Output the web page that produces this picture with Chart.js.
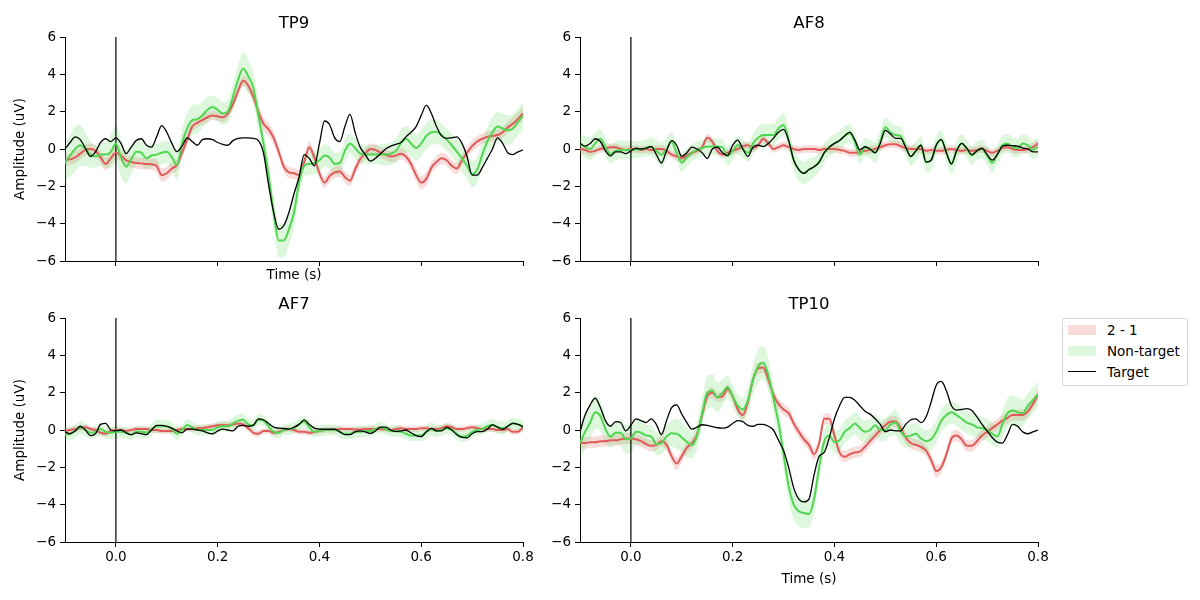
<!DOCTYPE html>
<html>
<head>
<meta charset="utf-8">
<script src="https://cdn.jsdelivr.net/npm/chart.js@4.4.0/dist/chart.umd.min.js"></script>
<style>
  body { margin: 0; width: 1200px; height: 600px; background: #fff; position: relative; overflow: hidden; font-family: 'DejaVu Sans', sans-serif; }
  canvas { position: absolute; }
  .title { position: absolute; width: 458px; text-align: center; font-size: 16.5px; line-height: 20px; color: #000; }
  #legend { position: absolute; left: 1062px; top: 318px; width: 124px; height: 66px; border: 1px solid #d6d6d6; border-radius: 3px; background: #fff; }
  #legend .row { position: absolute; left: 0; height: 16px; width: 124px; font-size: 13.5px; line-height: 16px; color: #000; }
  #legend .patch { position: absolute; left: 5px; top: 3px; width: 28px; height: 10px; }
  #legend .line { position: absolute; left: 5px; top: 7px; width: 28px; height: 0; border-top: 1.4px solid #000; }
  #legend .txt { position: absolute; left: 44px; top: 0; white-space: nowrap; }
</style>
</head>
<body>
<canvas id="c0" width="545" height="281" style="left:0;top:0"></canvas>
<canvas id="c1" width="530" height="281" style="left:530px;top:0"></canvas>
<canvas id="c2" width="545" height="319" style="left:0;top:281px"></canvas>
<canvas id="c3" width="530" height="319" style="left:530px;top:281px"></canvas>
<div class="title" id="t0" style="left:65px;top:13px"></div>
<div class="title" id="t1" style="left:580px;top:13px"></div>
<div class="title" id="t2" style="left:65px;top:294px"></div>
<div class="title" id="t3" style="left:580px;top:294px"></div>
<div id="legend">
  <div class="row" style="top:3px"><span class="patch" style="background:rgba(224,90,90,0.22)"></span><span class="txt">2 - 1</span></div>
  <div class="row" style="top:24px"><span class="patch" style="background:rgba(80,214,80,0.2)"></span><span class="txt">Non-target</span></div>
  <div class="row" style="top:45px"><span class="line"></span><span class="txt">Target</span></div>
</div>
<script>
// sample times (s)
const times = [
  -0.10,-0.09,-0.08,-0.07,-0.06,-0.05,-0.04,-0.03,-0.02,-0.01,
  0.00,0.01,0.02,0.03,0.04,0.05,0.06,0.07,0.08,0.09,
  0.10,0.11,0.12,0.13,0.14,0.15,0.16,0.17,0.18,0.19,
  0.20,0.21,0.22,0.23,0.24,0.25,0.26,0.27,0.28,0.29,
  0.30,0.31,0.32,0.33,0.34,0.35,0.36,0.37,0.38,0.39,
  0.40,0.41,0.42,0.43,0.44,0.45,0.46,0.47,0.48,0.49,
  0.50,0.51,0.52,0.53,0.54,0.55,0.56,0.57,0.58,0.59,
  0.60,0.61,0.62,0.63,0.64,0.65,0.66,0.67,0.68,0.69,
  0.70,0.71,0.72,0.73,0.74,0.75,0.76,0.77,0.78,0.79,
  0.80];
const xTicks = [0.0, 0.2, 0.4, 0.6, 0.8];
const yTicks = [-6, -4, -2, 0, 2, 4, 6];
const channels = ['TP9', 'AF8', 'AF7', 'TP10'];

// TP9
const tp9Diff = [
  -0.6,-0.55,-0.45,-0.25,-0.05,0.0,-0.1,-0.45,-0.8,-0.5,
  -0.2,-0.35,-0.6,-0.7,-0.75,-0.77,-0.8,-0.82,-0.9,-1.4,
  -1.3,-1.05,-0.85,-0.2,0.5,1.2,1.4,1.55,1.7,1.8,
  1.75,1.7,1.9,2.4,3.1,3.65,3.4,2.8,2.0,1.35,
  1.05,0.6,-0.15,-0.95,-1.25,-1.3,-1.4,-0.7,0.1,-0.45,
  -1.3,-1.8,-1.45,-1.25,-1.2,-1.5,-1.7,-1.1,-0.55,-0.25,
  0.0,-0.05,-0.2,-0.3,-0.4,-0.35,-0.25,-0.4,-0.8,-1.4,
  -1.8,-1.6,-1.0,-0.7,-0.5,-0.6,-0.9,-1.05,-0.6,-0.2,
  0.15,0.4,0.55,0.65,0.7,0.75,0.9,1.15,1.35,1.6,
  1.9];
const tp9DiffSem = [
  0.3,0.3,0.3,0.3,0.3,0.3,0.3,0.3,0.35,0.35,
  0.35,0.3,0.3,0.3,0.3,0.3,0.3,0.3,0.35,0.35,
  0.35,0.3,0.3,0.3,0.3,0.3,0.25,0.25,0.25,0.25,
  0.25,0.25,0.25,0.25,0.3,0.3,0.3,0.3,0.35,0.35,
  0.35,0.35,0.3,0.3,0.3,0.3,0.3,0.3,0.3,0.3,
  0.3,0.3,0.3,0.3,0.3,0.3,0.3,0.3,0.3,0.3,
  0.3,0.3,0.3,0.3,0.3,0.3,0.3,0.3,0.3,0.35,
  0.35,0.35,0.3,0.3,0.3,0.3,0.3,0.3,0.3,0.3,
  0.3,0.3,0.3,0.3,0.3,0.3,0.3,0.3,0.35,0.35,
  0.35];
const tp9NonTarget = [
  -0.75,-0.35,0.0,0.2,0.0,-0.3,-0.4,-0.3,-0.3,-0.15,
  0.3,-0.45,-0.95,-0.55,-0.15,-0.2,-0.5,-0.35,-0.3,-0.2,
  -0.15,-0.45,-0.85,0.3,1.1,1.55,1.6,1.8,2.1,2.25,
  2.1,1.9,2.0,2.8,3.7,4.3,3.9,3.3,1.8,0.3,
  -1.4,-3.4,-4.9,-4.9,-4.3,-3.4,-1.8,-0.9,-0.8,-0.75,
  -0.6,-0.35,-0.45,-0.8,-0.75,-0.1,0.3,0.05,-0.25,-0.3,
  -0.3,-0.3,-0.3,-0.3,-0.25,-0.1,0.3,0.55,0.3,0.05,
  0.3,0.7,0.9,0.93,0.75,0.5,0.2,-0.15,-0.5,-0.9,
  -1.35,-1.1,-0.3,0.4,0.9,1.2,1.1,1.0,1.1,1.45,
  1.8];
const tp9NonTargetSem = [
  1.1,1.1,1.2,1.1,0.9,0.7,0.6,0.6,0.7,0.9,
  1.0,1.0,0.9,0.8,0.7,0.6,0.6,0.6,0.6,0.6,
  0.6,0.7,0.8,0.8,0.8,0.8,0.8,0.7,0.7,0.6,
  0.6,0.6,0.6,0.7,0.8,0.9,0.9,0.8,0.8,0.8,
  0.8,0.9,0.9,0.9,0.8,0.8,0.7,0.6,0.6,0.6,
  0.6,0.6,0.6,0.6,0.6,0.6,0.55,0.55,0.5,0.5,
  0.5,0.5,0.55,0.6,0.6,0.65,0.7,0.7,0.7,0.7,
  0.7,0.7,0.7,0.65,0.6,0.6,0.6,0.65,0.7,0.7,
  0.7,0.7,0.7,0.75,0.8,0.8,0.8,0.8,0.75,0.7,
  0.7];
const tp9Target = [
  0.0,0.35,0.65,0.5,0.05,-0.4,-0.15,0.35,0.55,0.4,
  0.6,0.3,-0.25,0.1,0.45,0.55,0.2,0.1,0.65,1.25,
  0.9,0.3,-0.14,0.15,0.6,0.4,0.2,0.5,0.55,0.5,
  0.35,0.25,0.2,0.45,0.57,0.6,0.6,0.57,0.45,-0.2,
  -1.9,-3.4,-4.3,-4.1,-3.4,-2.4,-1.5,-0.3,-0.5,-0.9,
  0.3,1.5,1.3,0.6,0.4,1.2,1.85,0.9,0.1,-0.3,
  -0.65,-0.5,-0.25,0.0,0.15,0.25,0.35,0.65,0.9,1.2,
  1.8,2.35,1.9,1.2,0.7,0.57,0.6,0.65,0.3,-0.4,
  -1.4,-1.4,-1.0,-0.5,0.0,0.6,0.3,-0.2,-0.3,-0.15,
  -0.05];

// AF8
const af8Diff = [
  0.0,-0.05,-0.15,-0.1,0.0,0.05,0.1,0.1,0.0,-0.05,
  0.0,0.0,-0.05,0.0,-0.05,0.0,0.0,-0.1,-0.3,-0.4,
  -0.5,-0.35,-0.2,-0.1,0.1,0.6,0.4,-0.1,-0.3,-0.2,
  -0.1,0.0,0.15,0.2,0.05,0.2,0.55,0.3,0.0,0.1,
  0.2,0.1,0.0,-0.05,0.0,0.0,0.0,-0.05,0.0,0.0,
  0.0,-0.05,-0.1,-0.2,-0.2,-0.15,-0.1,-0.05,0.0,0.1,
  0.2,0.25,0.25,0.15,0.05,0.0,0.0,0.0,-0.1,-0.05,
  -0.1,-0.1,-0.05,0.0,-0.05,-0.1,-0.05,-0.1,-0.05,0.0,
  -0.1,-0.2,-0.1,0.05,0.1,0.0,-0.05,-0.05,0.0,0.1,
  0.3];
const af8DiffSem = [
  0.22,0.22,0.22,0.2,0.2,0.2,0.2,0.2,0.2,0.2,
  0.2,0.2,0.2,0.2,0.2,0.2,0.2,0.2,0.2,0.22,
  0.22,0.22,0.2,0.2,0.2,0.22,0.22,0.2,0.2,0.2,
  0.2,0.2,0.2,0.2,0.2,0.2,0.22,0.22,0.2,0.2,
  0.2,0.2,0.2,0.2,0.2,0.2,0.2,0.2,0.2,0.2,
  0.2,0.2,0.2,0.2,0.2,0.2,0.2,0.2,0.2,0.2,
  0.2,0.2,0.2,0.2,0.2,0.2,0.2,0.2,0.2,0.2,
  0.2,0.2,0.2,0.2,0.2,0.2,0.2,0.2,0.2,0.2,
  0.2,0.2,0.2,0.2,0.2,0.2,0.2,0.2,0.22,0.22,
  0.22];
const af8NonTarget = [
  0.3,0.1,0.0,0.3,0.55,0.1,-0.27,-0.1,-0.05,-0.05,
  -0.05,-0.03,-0.02,0.05,0.13,-0.1,-0.32,0.0,0.39,-0.2,
  -0.73,-0.45,-0.2,-0.05,0.05,0.13,0.13,0.13,0.09,-0.38,
  -0.1,0.21,0.0,-0.2,0.3,0.6,0.75,0.75,0.75,1.1,
  1.29,0.5,-0.6,-1.1,-1.3,-1.1,-0.95,-0.7,-0.2,0.1,
  0.3,0.45,0.7,0.85,0.4,-0.3,0.1,0.0,-0.2,0.4,
  1.16,0.9,0.75,0.7,0.1,-0.4,-0.1,0.2,-0.7,-0.6,
  0.2,0.5,-0.2,-0.8,-0.1,0.3,0.0,-0.35,-0.1,0.0,
  -0.35,-0.75,-0.3,0.2,0.3,0.1,0.04,0.3,0.2,-0.05,
  0.12];
const af8NonTargetSem = [
  0.5,0.6,0.6,0.6,0.5,0.5,0.5,0.5,0.5,0.5,
  0.5,0.45,0.45,0.45,0.5,0.55,0.65,0.6,0.5,0.5,
  0.5,0.5,0.45,0.45,0.45,0.45,0.45,0.45,0.45,0.5,
  0.5,0.5,0.5,0.5,0.55,0.6,0.6,0.6,0.6,0.6,
  0.6,0.6,0.6,0.6,0.6,0.6,0.55,0.5,0.5,0.5,
  0.5,0.5,0.5,0.5,0.5,0.5,0.5,0.5,0.55,0.55,
  0.55,0.5,0.5,0.5,0.5,0.5,0.5,0.5,0.55,0.55,
  0.5,0.5,0.5,0.55,0.55,0.5,0.5,0.5,0.5,0.5,
  0.5,0.55,0.5,0.5,0.5,0.5,0.5,0.5,0.5,0.5,
  0.5];
const af8Target = [
  0.3,0.15,0.3,0.55,0.4,-0.1,-0.38,-0.15,-0.15,-0.25,
  -0.1,0.04,0.0,0.05,0.13,-0.3,-0.75,-0.1,0.45,0.2,
  -0.4,-0.2,0.1,0.0,-0.2,-0.5,0.0,0.1,-0.2,-0.35,
  0.2,0.48,0.0,-0.4,0.1,0.21,0.13,0.3,0.57,0.9,
  1.05,0.45,-0.6,-1.1,-1.3,-1.1,-0.95,-0.7,-0.2,0.1,
  0.3,0.45,0.7,0.9,0.5,-0.05,0.12,0.0,-0.2,0.3,
  1.0,0.8,0.57,0.57,0.1,-0.4,-0.1,0.2,-0.7,-0.6,
  0.2,0.5,-0.2,-0.8,-0.1,0.3,0.05,-0.3,-0.1,0.04,
  -0.3,-0.59,-0.3,0.15,0.2,0.18,0.15,0.05,0.0,-0.15,
  -0.15];

// AF7
const af7Diff = [
  -0.05,0.0,0.05,0.1,0.15,0.05,0.0,-0.15,-0.2,-0.05,
  0.0,0.0,-0.05,0.0,0.05,0.05,0.05,0.0,0.0,-0.05,
  -0.05,-0.05,0.0,0.05,0.05,0.05,0.1,0.1,0.15,0.2,
  0.25,0.27,0.25,0.3,0.35,0.3,0.1,-0.15,-0.2,-0.05,
  -0.05,-0.15,-0.1,0.0,0.05,0.0,-0.1,-0.1,-0.15,-0.1,
  -0.05,0.0,0.0,0.02,0.05,0.05,0.05,0.03,0.03,0.05,
  0.05,0.05,0.05,0.03,0.0,0.05,0.1,0.05,0.05,0.05,
  0.1,0.1,0.05,0.05,0.1,0.2,0.15,0.05,0.05,0.1,
  0.15,0.1,0.05,0.05,0.05,0.0,0.0,0.05,-0.1,-0.1,
  0.15];
const af7DiffSem = [
  0.15,0.15,0.15,0.15,0.15,0.15,0.15,0.15,0.15,0.15,
  0.15,0.15,0.15,0.15,0.15,0.15,0.15,0.15,0.15,0.15,
  0.15,0.15,0.15,0.15,0.15,0.15,0.15,0.15,0.15,0.15,
  0.15,0.15,0.15,0.15,0.15,0.15,0.15,0.18,0.18,0.15,
  0.15,0.15,0.15,0.15,0.15,0.15,0.15,0.15,0.15,0.15,
  0.15,0.15,0.15,0.15,0.15,0.15,0.15,0.15,0.15,0.15,
  0.15,0.15,0.15,0.15,0.15,0.15,0.15,0.15,0.15,0.15,
  0.15,0.15,0.15,0.15,0.15,0.15,0.15,0.15,0.15,0.15,
  0.15,0.15,0.15,0.15,0.15,0.15,0.15,0.15,0.15,0.15,
  0.15];
const af7NonTarget = [
  -0.25,-0.2,-0.05,0.15,0.0,-0.15,-0.1,0.05,-0.1,-0.15,
  -0.1,-0.1,-0.15,-0.25,-0.1,-0.1,-0.15,0.05,0.2,0.2,
  0.2,0.05,-0.2,0.0,0.27,0.15,0.0,0.0,0.0,0.0,
  0.15,0.2,0.2,0.35,0.5,0.55,0.3,0.25,0.55,0.5,
  0.2,-0.1,-0.15,0.0,0.05,0.1,0.3,0.45,0.15,-0.1,
  -0.05,0.0,0.0,0.0,-0.1,-0.2,-0.2,-0.1,-0.1,-0.05,
  -0.05,0.05,0.14,0.05,-0.05,-0.05,-0.1,-0.2,-0.3,-0.3,
  -0.3,-0.1,0.05,-0.05,0.0,0.09,0.0,-0.2,-0.35,-0.3,
  -0.1,0.0,0.05,0.2,0.27,0.15,0.09,0.2,0.36,0.3,
  0.18];
const af7NonTargetSem = [
  0.35,0.35,0.35,0.35,0.35,0.3,0.3,0.35,0.35,0.35,
  0.35,0.3,0.3,0.3,0.3,0.3,0.3,0.3,0.35,0.35,
  0.35,0.35,0.35,0.3,0.3,0.3,0.3,0.3,0.3,0.3,
  0.3,0.3,0.3,0.35,0.35,0.35,0.3,0.3,0.3,0.3,
  0.3,0.3,0.3,0.3,0.3,0.3,0.35,0.35,0.35,0.3,
  0.3,0.3,0.3,0.3,0.3,0.3,0.3,0.3,0.3,0.3,
  0.3,0.3,0.3,0.3,0.3,0.3,0.3,0.3,0.3,0.3,
  0.3,0.35,0.35,0.35,0.3,0.3,0.3,0.3,0.3,0.3,
  0.3,0.3,0.3,0.3,0.35,0.35,0.35,0.3,0.3,0.3,
  0.3];
const af7Target = [
  -0.1,-0.2,-0.05,0.2,0.0,-0.3,-0.2,0.3,0.35,0.0,
  -0.05,0.0,-0.15,-0.25,-0.15,-0.2,-0.25,0.0,0.25,0.25,
  0.2,0.1,-0.05,-0.15,0.05,0.05,0.0,-0.05,-0.15,-0.2,
  -0.05,0.05,0.0,-0.05,0.2,0.25,0.2,0.25,0.6,0.55,
  0.35,0.15,0.1,0.08,0.05,0.15,0.3,0.54,0.3,0.1,
  0.05,0.04,0.04,0.04,-0.1,-0.25,-0.25,-0.1,-0.05,-0.1,
  -0.18,-0.05,0.15,0.15,0.0,-0.09,-0.05,0.0,-0.15,-0.3,
  -0.36,-0.1,0.09,-0.05,-0.05,0.14,0.0,-0.25,-0.4,-0.42,
  -0.2,-0.09,-0.09,0.05,0.27,0.15,0.04,0.2,0.36,0.3,
  0.18];

// TP10
const tp10Diff = [
  -0.7,-0.7,-0.65,-0.65,-0.6,-0.6,-0.55,-0.55,-0.5,-0.45,
  -0.45,-0.5,-0.6,-0.75,-0.85,-0.8,-0.6,-0.8,-1.4,-1.8,
  -1.4,-0.95,-0.7,-0.25,0.8,1.8,2.0,1.75,1.8,2.2,
  1.8,1.1,0.8,1.5,2.7,3.3,3.35,2.7,1.9,1.4,
  1.1,0.9,0.35,-0.1,-0.5,-0.8,-1.3,-0.7,0.6,0.6,
  -0.3,-1.2,-1.43,-1.3,-1.2,-1.16,-0.9,-0.6,-0.3,0.0,
  0.25,0.45,0.45,0.1,-0.4,-0.7,-0.8,-0.9,-1.1,-1.6,
  -2.2,-2.0,-1.3,-0.45,-0.3,-0.5,-0.85,-0.85,-0.6,-0.3,
  -0.1,0.1,0.3,0.5,0.65,0.8,0.8,0.8,1.0,1.4,
  1.9];
const tp10DiffSem = [
  0.3,0.3,0.3,0.3,0.3,0.3,0.3,0.3,0.3,0.3,
  0.3,0.3,0.3,0.3,0.3,0.3,0.3,0.3,0.3,0.35,
  0.3,0.3,0.3,0.3,0.3,0.3,0.3,0.25,0.25,0.25,
  0.25,0.25,0.25,0.25,0.3,0.3,0.3,0.3,0.3,0.3,
  0.3,0.3,0.3,0.3,0.3,0.3,0.3,0.3,0.3,0.3,
  0.3,0.3,0.3,0.3,0.3,0.3,0.3,0.3,0.3,0.3,
  0.3,0.3,0.3,0.3,0.3,0.3,0.3,0.3,0.3,0.3,
  0.35,0.3,0.3,0.3,0.3,0.3,0.3,0.3,0.3,0.3,
  0.3,0.3,0.3,0.3,0.3,0.3,0.3,0.3,0.3,0.3,
  0.3];
const tp10NonTarget = [
  -0.7,-0.1,0.4,0.95,0.75,0.05,-0.36,-0.15,-0.15,-0.5,
  -0.45,-0.1,-0.15,-0.3,-0.35,-0.75,-0.7,-0.35,-0.18,-0.2,
  -0.4,-0.65,-0.8,-0.3,0.9,2.0,2.1,1.75,2.0,2.3,
  1.8,1.3,1.1,1.6,2.7,3.4,3.6,2.95,1.7,0.4,
  -1.3,-3.0,-4.0,-4.35,-4.45,-4.5,-3.7,-2.0,-0.6,-0.3,
  -0.65,-0.55,-0.1,0.1,0.35,0.1,-0.1,0.0,0.25,0.0,
  0.0,0.3,0.4,-0.05,-0.35,-0.3,-0.2,-0.45,-0.6,-0.5,
  -0.1,0.5,0.8,0.95,0.8,0.6,0.4,0.3,0.15,0.1,
  0.0,-0.2,-0.35,0.3,0.9,1.05,0.95,0.9,1.3,1.6,
  1.9];
const tp10NonTargetSem = [
  0.9,0.9,0.9,0.9,0.8,0.7,0.6,0.6,0.7,0.8,
  0.8,0.7,0.6,0.6,0.6,0.6,0.6,0.6,0.7,0.8,
  0.8,0.8,0.7,0.7,0.8,0.9,0.9,0.8,0.7,0.6,
  0.6,0.6,0.6,0.7,0.8,0.9,0.9,0.9,0.8,0.8,
  0.8,0.8,0.8,0.8,0.8,0.7,0.7,0.6,0.6,0.6,
  0.6,0.6,0.6,0.6,0.6,0.6,0.6,0.6,0.6,0.6,
  0.6,0.6,0.7,0.7,0.6,0.6,0.6,0.6,0.6,0.6,
  0.6,0.6,0.6,0.6,0.6,0.6,0.6,0.6,0.6,0.6,
  0.6,0.6,0.6,0.7,0.8,0.8,0.8,0.7,0.7,0.7,
  0.7];
const tp10Target = [
  -0.1,0.8,1.35,1.7,1.2,0.5,0.2,0.45,0.4,-0.05,
  0.25,0.6,0.5,0.4,0.6,0.3,-0.25,0.5,1.2,1.35,
  0.85,0.4,0.05,0.15,0.28,0.25,0.18,0.12,0.1,0.15,
  0.35,0.5,0.45,0.25,0.2,0.3,0.3,0.2,0.0,-0.55,
  -1.1,-2.0,-3.1,-3.7,-3.85,-3.7,-2.4,-1.4,-1.2,-0.4,
  0.6,1.3,1.75,1.75,1.6,1.3,1.0,0.85,0.6,0.3,
  -0.09,0.0,-0.05,-0.05,0.3,0.55,0.6,0.4,0.7,1.5,
  2.4,2.6,2.1,1.3,1.07,1.1,1.15,1.05,0.7,0.3,
  -0.05,-0.4,-0.65,-0.7,-0.25,0.3,0.2,-0.1,-0.2,-0.1,
  0.0];

const series = { tp9Diff, tp9DiffSem, tp9NonTarget, tp9NonTargetSem, tp9Target,
  af8Diff, af8DiffSem, af8NonTarget, af8NonTargetSem, af8Target,
  af7Diff, af7DiffSem, af7NonTarget, af7NonTargetSem, af7Target,
  tp10Diff, tp10DiffSem, tp10NonTarget, tp10NonTargetSem, tp10Target };
for (const [name, arr] of Object.entries(series)) {
  if (arr.length !== times.length) throw new Error(name + ' has ' + arr.length + ' values');
}

const RED = 'rgb(224,90,90)';
const RED_BAND = 'rgba(224,90,90,0.22)';
const GREEN = 'rgb(80,214,80)';
const GREEN_BAND = 'rgba(80,214,80,0.2)';
const FONT = "'DejaVu Sans', sans-serif";

Chart.defaults.font.family = FONT;
Chart.defaults.color = '#000';

const panels = [
  { canvas: 'c0', diff: tp9Diff, diffSem: tp9DiffSem, nonTarget: tp9NonTarget, nonTargetSem: tp9NonTargetSem, target: tp9Target,
    yWidth: 65, xHeight: 20, yTitle: true, xTitle: true, xTitlePad: -3, xLabels: false },
  { canvas: 'c1', diff: af8Diff, diffSem: af8DiffSem, nonTarget: af8NonTarget, nonTargetSem: af8NonTargetSem, target: af8Target,
    yWidth: 50, xHeight: 20, yTitle: false, xTitle: false, xTitlePad: 0, xLabels: false },
  { canvas: 'c2', diff: af7Diff, diffSem: af7DiffSem, nonTarget: af7NonTarget, nonTargetSem: af7NonTargetSem, target: af7Target,
    yWidth: 65, xHeight: 58, yTitle: true, xTitle: false, xTitlePad: 0, xLabels: true },
  { canvas: 'c3', diff: tp10Diff, diffSem: tp10DiffSem, nonTarget: tp10NonTarget, nonTargetSem: tp10NonTargetSem, target: tp10Target,
    yWidth: 50, xHeight: 58, yTitle: false, xTitle: true, xTitlePad: 12, xLabels: true },
];

const pts = vals => times.map((t, i) => ({ x: t, y: vals[i] }));
const edge = (vals, sem, sign) => times.map((t, i) => ({ x: t, y: vals[i] + sign * sem[i] }));
const fmtY = v => (v < 0 ? '\u2212' + Math.abs(v) : String(v));

function makeChart(p) {
  const curve = { pointRadius: 0, cubicInterpolationMode: 'monotone', fill: false };
  const datasets = [
    { ...curve, label: 'Target', data: pts(p.target), borderColor: '#000', borderWidth: 1.3, order: 0 },
    { ...curve, label: 'Non-target', data: pts(p.nonTarget), borderColor: GREEN, borderWidth: 2, order: 1 },
    { ...curve, label: '2 - 1', data: pts(p.diff), borderColor: RED, borderWidth: 2, order: 2 },
    { label: 'onset', data: [{ x: 0, y: yTicks[0] }, { x: 0, y: yTicks[yTicks.length - 1] }],
      borderColor: '#000', borderWidth: 1.2, pointRadius: 0, tension: 0, fill: false, order: 3 },
    { ...curve, label: 'nt+', data: edge(p.nonTarget, p.nonTargetSem, 1), borderWidth: 0, borderColor: 'transparent', order: 4 },
    { ...curve, label: 'nt-', data: edge(p.nonTarget, p.nonTargetSem, -1), borderWidth: 0, borderColor: 'transparent',
      fill: { target: 4 }, backgroundColor: GREEN_BAND, order: 5 },
    { ...curve, label: 'd+', data: edge(p.diff, p.diffSem, 1), borderWidth: 0, borderColor: 'transparent', order: 6 },
    { ...curve, label: 'd-', data: edge(p.diff, p.diffSem, -1), borderWidth: 0, borderColor: 'transparent',
      fill: { target: 6 }, backgroundColor: RED_BAND, order: 7 },
  ];

  return new Chart(document.getElementById(p.canvas), {
    type: 'line',
    data: { datasets },
    options: {
      responsive: false,
      animation: false,
      devicePixelRatio: 1,
      layout: { padding: { left: 0, right: 22, top: 37, bottom: 0 } },
      plugins: { legend: { display: false }, tooltip: { enabled: false } },
      scales: {
        x: {
          type: 'linear', min: -0.1, max: 0.8,
          afterBuildTicks: s => { s.ticks = xTicks.map(v => ({ value: v })); },
          afterFit: s => { s.height = p.xHeight; },
          ticks: { display: p.xLabels, callback: v => v.toFixed(1), font: { size: 13.5 }, padding: 2, maxRotation: 0, color: '#000' },
          grid: { drawOnChartArea: false, drawTicks: true, tickLength: 5, tickColor: '#000', lineWidth: 1 },
          border: { display: true, color: '#000', width: 1 },
          title: { display: p.xTitle, text: 'Time (s)', color: '#000', font: { size: 13.5 }, padding: { top: 0, bottom: p.xTitlePad } },
        },
        y: {
          type: 'linear', min: -6, max: 6,
          afterBuildTicks: s => { s.ticks = yTicks.map(v => ({ value: v })); },
          afterFit: s => { s.width = p.yWidth; },
          ticks: { callback: fmtY, font: { size: 13.5 }, padding: 4, color: '#000' },
          grid: { drawOnChartArea: false, drawTicks: true, tickLength: 5, tickColor: '#000', lineWidth: 1 },
          border: { display: true, color: '#000', width: 1 },
          title: { display: p.yTitle, text: 'Amplitude (uV)', color: '#000', font: { size: 13.5 }, padding: { top: 12, bottom: 0 } },
        },
      },
    },
  });
}

channels.forEach((name, i) => { document.getElementById('t' + i).textContent = name; });
panels.forEach(makeChart);
</script>
</body>
</html>
